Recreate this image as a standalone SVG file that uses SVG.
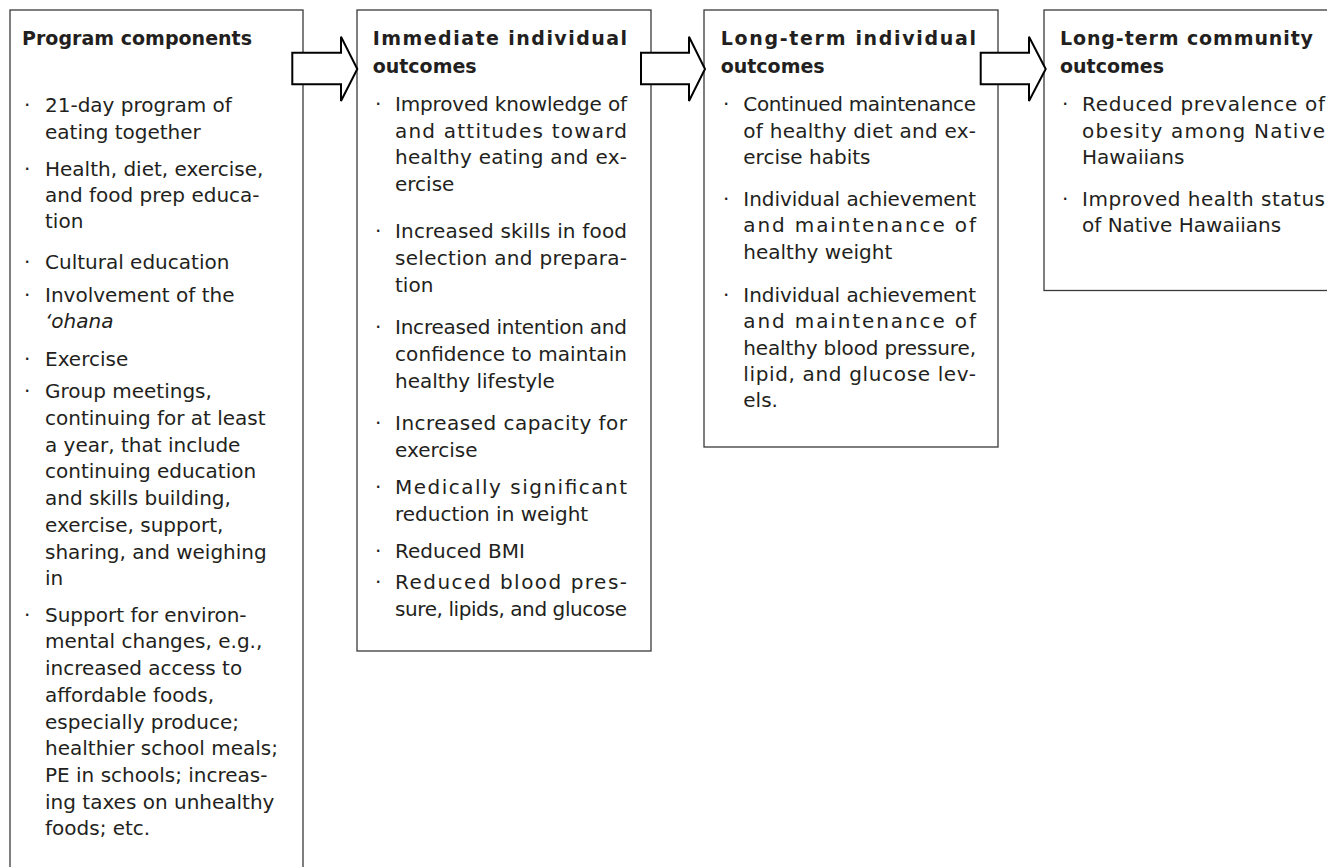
<svg xmlns="http://www.w3.org/2000/svg" width="1327" height="867" viewBox="0 0 1327 867">
<style>
.box{fill:#fff;stroke:#3a3a3a;stroke-width:1.3}
.arr{fill:#fff;stroke:#000;stroke-width:2;stroke-linejoin:miter}
text{font-family:"DejaVu Sans","Liberation Sans",sans-serif;font-size:20px;fill:#231f20}
.t{font-weight:bold;font-size:19px}
.i{font-style:italic}
</style>
<rect width="1327" height="867" fill="#fff"/>
<g id="node-program">
<rect class="box" x="10" y="10" width="293" height="870"/>
<text class="t" x="22" y="45" textLength="230" lengthAdjust="spacing">Program components</text>
<text x="24" y="112.3">·</text><text x="45" y="112.3">21-day program of</text>
<text x="45" y="138.5">eating together</text>
<text x="24" y="175.7">·</text><text x="45" y="175.7">Health, diet, exercise,</text>
<text x="45" y="202">and food prep educa-</text>
<text x="45" y="228.3">tion</text>
<text x="24" y="269.3">·</text><text x="45" y="269.3">Cultural education</text>
<text x="24" y="301.7">·</text><text x="45" y="301.7">Involvement of the</text>
<text x="45" y="328" class="i">‘ohana</text>
<text x="24" y="366">·</text><text x="45" y="366">Exercise</text>
<text x="24" y="398.3">·</text><text x="45" y="398.3">Group meetings,</text>
<text x="45" y="425">continuing for at least</text>
<text x="45" y="451.7">a year, that include</text>
<text x="45" y="478.4">continuing education</text>
<text x="45" y="505.1">and skills building,</text>
<text x="45" y="531.8">exercise, support,</text>
<text x="45" y="558.5">sharing, and weighing</text>
<text x="45" y="585.2">in</text>
<text x="24" y="621.7">·</text><text x="45" y="621.7">Support for environ-</text>
<text x="45" y="648.4">mental changes, e.g.,</text>
<text x="45" y="675.1">increased access to</text>
<text x="45" y="701.8">affordable foods,</text>
<text x="45" y="728.5">especially produce;</text>
<text x="45" y="755.2">healthier school meals;</text>
<text x="45" y="781.9">PE in schools; increas-</text>
<text x="45" y="808.6">ing taxes on unhealthy</text>
<text x="45" y="835.3">foods; etc.</text>
</g>
<g id="node-immediate">
<rect class="box" x="357" y="10" width="294" height="641"/>
<text class="t" x="372.7" y="45" textLength="254.3" lengthAdjust="spacing">Immediate individual</text>
<text class="t" x="372.7" y="72.7">outcomes</text>
<text x="375" y="111">·</text><text x="395" y="111" textLength="232" lengthAdjust="spacing">Improved knowledge of</text>
<text x="395" y="137.5" textLength="232" lengthAdjust="spacing">and attitudes toward</text>
<text x="395" y="164" textLength="232" lengthAdjust="spacing">healthy eating and ex-</text>
<text x="395" y="190.5">ercise</text>
<text x="375" y="238.3">·</text><text x="395" y="238.3" textLength="232" lengthAdjust="spacing">Increased skills in food</text>
<text x="395" y="265" textLength="232" lengthAdjust="spacing">selection and prepara-</text>
<text x="395" y="291.7">tion</text>
<text x="375" y="334">·</text><text x="395" y="334" textLength="232" lengthAdjust="spacing">Increased intention and</text>
<text x="395" y="361" textLength="232" lengthAdjust="spacing">confidence to maintain</text>
<text x="395" y="388">healthy lifestyle</text>
<text x="375" y="430">·</text><text x="395" y="430" textLength="232" lengthAdjust="spacing">Increased capacity for</text>
<text x="395" y="456.7">exercise</text>
<text x="375" y="494">·</text><text x="395" y="494" textLength="232" lengthAdjust="spacing">Medically significant</text>
<text x="395" y="521">reduction in weight</text>
<text x="375" y="558.3">·</text><text x="395" y="558.3">Reduced BMI</text>
<text x="375" y="589.3">·</text><text x="395" y="589.3" textLength="232" lengthAdjust="spacing">Reduced blood pres-</text>
<text x="395" y="616" textLength="232" lengthAdjust="spacing">sure, lipids, and glucose</text>
</g>
<g id="node-longterm-individual">
<rect class="box" x="704" y="10" width="294" height="437"/>
<text class="t" x="720.7" y="45" textLength="255.3" lengthAdjust="spacing">Long-term individual</text>
<text class="t" x="720.7" y="72.7">outcomes</text>
<text x="723" y="111">·</text><text x="743.3" y="111" textLength="232.7" lengthAdjust="spacing">Continued maintenance</text>
<text x="743.3" y="137.7" textLength="232.7" lengthAdjust="spacing">of healthy diet and ex-</text>
<text x="743.3" y="164">ercise habits</text>
<text x="723" y="205.7">·</text><text x="743.3" y="205.7" textLength="232.7" lengthAdjust="spacing">Individual achievement</text>
<text x="743.3" y="232.3" textLength="232.7" lengthAdjust="spacing">and maintenance of</text>
<text x="743.3" y="259.3">healthy weight</text>
<text x="723" y="301.7">·</text><text x="743.3" y="301.7" textLength="232.7" lengthAdjust="spacing">Individual achievement</text>
<text x="743.3" y="328.3" textLength="232.7" lengthAdjust="spacing">and maintenance of</text>
<text x="743.3" y="354.5" textLength="232.7" lengthAdjust="spacing">healthy blood pressure,</text>
<text x="743.3" y="380.7" textLength="232.7" lengthAdjust="spacing">lipid, and glucose lev-</text>
<text x="743.3" y="407.3">els.</text>
</g>
<g id="node-community">
<rect class="box" x="1044" y="10" width="300" height="280.5"/>
<text class="t" x="1060" y="45" textLength="253" lengthAdjust="spacing">Long-term community</text>
<text class="t" x="1060" y="72.7">outcomes</text>
<text x="1062" y="111">·</text><text x="1082" y="111" textLength="243" lengthAdjust="spacing">Reduced prevalence of</text>
<text x="1082" y="137.7" textLength="243" lengthAdjust="spacing">obesity among Native</text>
<text x="1082" y="164.3">Hawaiians</text>
<text x="1062" y="205.7">·</text><text x="1082" y="205.7" textLength="243" lengthAdjust="spacing">Improved health status</text>
<text x="1082" y="232.3">of Native Hawaiians</text>
</g>
<g id="connectors">
<polygon class="arr" points="292.3,52.7 341,52.7 341,36.7 357.3,69 341,101 341,84.3 292.3,84.3"/>
<polygon class="arr" points="641,52.7 689,52.7 689,36.7 705,69 689,101 689,84.3 641,84.3"/>
<polygon class="arr" points="980.7,52.7 1029,52.7 1029,36.7 1045.7,69 1029,101 1029,84.3 980.7,84.3"/>
</g>
</svg>
